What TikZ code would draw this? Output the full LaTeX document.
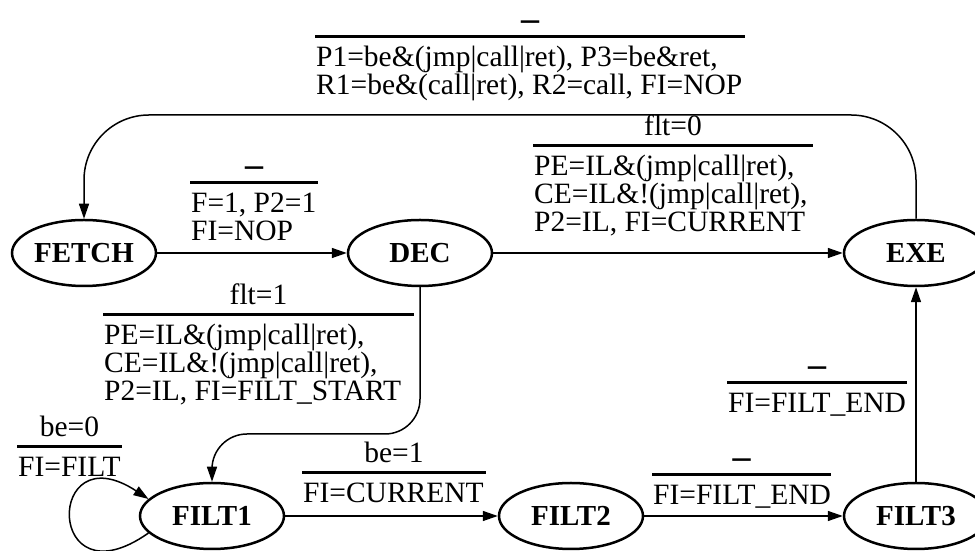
\documentclass[tikz,border=0pt]{standalone}
\usepackage{fontspec}
\setmainfont{Liberation Serif}
\usetikzlibrary{arrows.meta,shapes.geometric,calc}

% empty trigger condition
\newcommand\nocond{\raisebox{-3.5pt}{\fontsize{36}{36}\selectfont\bfseries --}}

% transition label: #1 name, #2/#3 left/right x of the bar, #4 bar y,
% #5 condition, #6 action lines (\hbox{...} each)
\newcommand\trans[6]{%
  \coordinate (#1-l) at (#2,#4);
  \coordinate (#1-r) at (#3,#4);
  \draw[bar] (#1-l) -- (#1-r);
  \node[cond] (#1-c) at ($(#1-l)!0.5!(#1-r)+(0,10)$) {#5};
  \node[act] (#1-a) at ($(#1-l)+(1,-30)$) {\vtop{#6}};
}

\tikzset{
  state/.style={ellipse, draw, line width=2.5pt, minimum width=144pt,
    minimum height=66pt, inner sep=0pt,
    font=\fontsize{29}{30}\selectfont\bfseries},
  arr/.style={line width=1.5pt, -{Triangle[length=15pt,width=10pt]}},
  bar/.style={line width=3pt},
  cond/.style={anchor=base, inner sep=0pt, font=\fontsize{29.5}{28}\selectfont},
  act/.style={anchor=base west, inner sep=0pt, font=\fontsize{29.5}{28}\selectfont},
}

\begin{document}
\begin{tikzpicture}[x=1pt,y=1pt]
\useasboundingbox (0,0) rectangle (975,551);

% states
\node[state] (fetch) at (84,298) {FETCH};
\node[state] (dec)   at (420,298) {DEC};
\node[state] (exe)   at (916,298) {EXE};
\node[state] (filt1) at (212,35) {FILT1};
\node[state] (filt2) at (571,35) {FILT2};
\node[state] (filt3) at (916,35) {FILT3};

% helper heights for routed connectors
\coordinate (topy) at (0,436);
\coordinate (midy) at (0,117);

% connectors
\draw[arr] (fetch) -- (dec);
\draw[arr] (dec) -- (exe);
\draw[arr, rounded corners=65pt] (exe.north) -- (exe.north |- topy)
  -- (fetch.north |- topy) -- (fetch.north);
\draw[arr, rounded corners=35pt] (dec.south) |- (filt1.north |- midy)
  -- (filt1.north);
\draw[arr] (filt1) -- (filt2);
\draw[arr] (filt2) -- (filt3);
\draw[arr] (filt3) -- (exe);
\draw[arr] (filt1.195) .. controls (45,-55) and (45,120) .. (filt1.165);

% transition labels
\trans{tx}{315}{745}{514}{\nocond}{%
  \hbox{P1=be\&(jmp|call|ret), P3=be\&ret,}
  \hbox{R1=be\&(call|ret), R2=call, FI=NOP}}
\trans{tf}{190}{318}{368}{\nocond}{%
  \hbox{F=1, P2=1}
  \hbox{FI=NOP}}
\trans{td}{533}{813}{405}{flt=0}{%
  \hbox{PE=IL\&(jmp|call|ret),}
  \hbox{CE=IL\&!(jmp|call|ret),}
  \hbox{P2=IL, FI=CURRENT}}
\trans{tg}{103}{414}{236}{flt=1}{%
  \hbox{PE=IL\&(jmp|call|ret),}
  \hbox{CE=IL\&!(jmp|call|ret),}
  \hbox{P2=IL, FI=FILT\_START}}
\trans{tl}{17}{122}{104}{be=0}{%
  \hbox{FI=FILT}}
\trans{ta}{302}{486}{78}{be=1}{%
  \hbox{FI=CURRENT}}
\trans{tb}{652}{831}{76}{\nocond}{%
  \hbox{FI=FILT\_END}}
\trans{tc}{727}{907}{168}{\nocond}{%
  \hbox{FI=FILT\_END}}
\end{tikzpicture}
\end{document}
